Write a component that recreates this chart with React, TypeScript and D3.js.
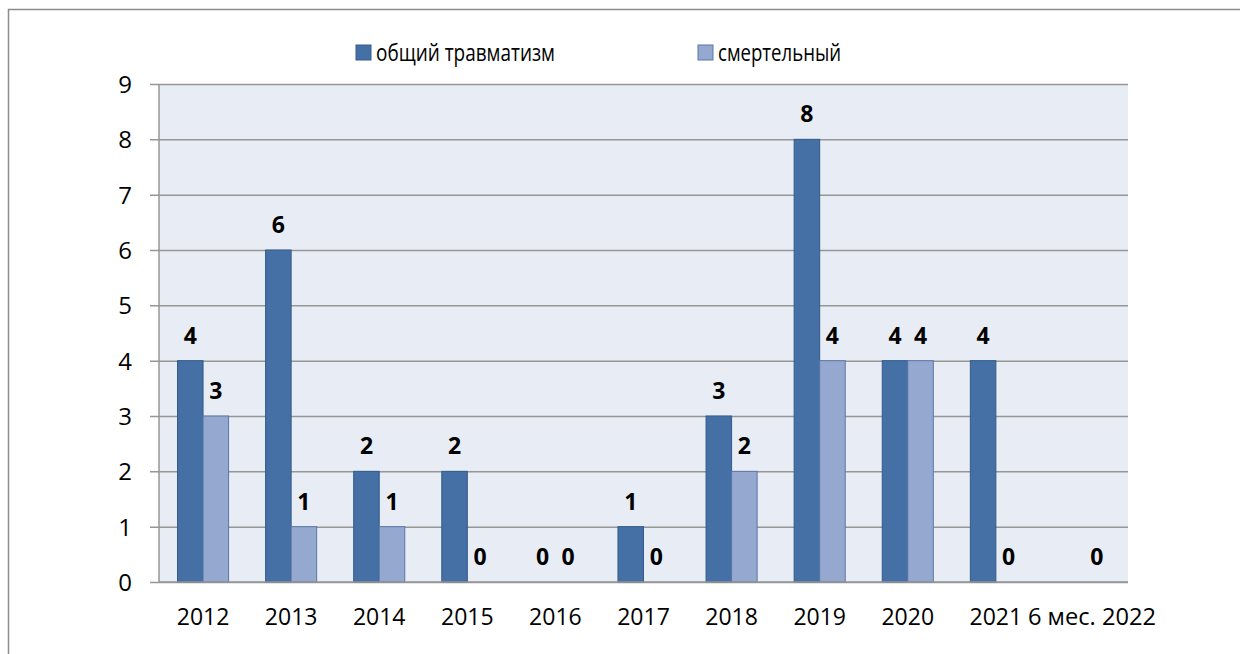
import { useRef, useEffect } from "react";
import * as d3 from "d3";

const categories = ["2012", "2013", "2014", "2015", "2016", "2017", "2018", "2019", "2020", "2021", "6 мес. 2022"];
const totalInjuries: (number | null)[] = [4, 6, 2, 2, 0, 1, 3, 8, 4, 4, null];
const fatalInjuries: (number | null)[] = [3, 1, 1, 0, 0, 0, 2, 4, 4, 0, 0];
const yTicks = [0, 1, 2, 3, 4, 5, 6, 7, 8, 9];

const series = [
  { name: "общий травматизм", values: totalInjuries, color: "#4470A6", stroke: "#345a8a" },
  { name: "смертельный", values: fatalInjuries, color: "#95A9D0", stroke: "#5a76a8" },
];

const W = 1240;
const H = 654;
const PLOT = { left: 159, right: 1128, top: 84, bottom: 582 };
const FONT = "'Open Sans', 'Noto Sans', sans-serif";

export default function App() {
  const svgRef = useRef<SVGSVGElement>(null);

  useEffect(() => {
    const svg = d3.select(svgRef.current);
    svg.selectAll("*").remove();

    // outer frame (right/bottom edges fall outside the picture)
    svg
      .append("rect")
      .attr("x", 8.5)
      .attr("y", 9.5)
      .attr("width", W + 20)
      .attr("height", H + 20)
      .attr("fill", "#fff")
      .attr("stroke", "#8c8c8c")
      .attr("stroke-width", 1.5);

    const x = d3.scaleBand<string>().domain(categories).range([PLOT.left, PLOT.right]);
    const y = d3.scaleLinear().domain([0, 9]).range([PLOT.bottom, PLOT.top]);

    // plot background
    svg
      .append("rect")
      .attr("x", PLOT.left)
      .attr("y", PLOT.top)
      .attr("width", PLOT.right - PLOT.left)
      .attr("height", PLOT.bottom - PLOT.top)
      .attr("fill", "#E8EDF5");

    // gridlines + y ticks
    const yAxis = d3
      .axisLeft(y)
      .tickValues(yTicks)
      .tickSize(-(PLOT.right - PLOT.left))
      .tickPadding(27)
      .tickFormat((d) => String(d));

    svg
      .append("g")
      .attr("transform", `translate(${PLOT.left},0)`)
      .call(yAxis)
      .call((g) => {
        g.select(".domain").remove();
        g.selectAll(".tick line").attr("stroke", "#969696").attr("stroke-width", 1.5).attr("x1", -9);
        g.selectAll(".tick text")
          .attr("fill", "#000")
          .attr("font-size", "24px")
          .attr("font-family", FONT)
          .attr("dy", "0.36em");
      });

    // y axis line
    svg
      .append("line")
      .attr("x1", PLOT.left)
      .attr("x2", PLOT.left)
      .attr("y1", PLOT.top)
      .attr("y2", PLOT.bottom)
      .attr("stroke", "#969696")
      .attr("stroke-width", 1.5);

    // bars
    const band = x.bandwidth();
    const barW = band / 3.45;
    series.forEach((s, si) => {
      s.values.forEach((v, i) => {
        if (v === null) return;
        const cx = (x(categories[i]) ?? 0) + band / 2;
        const bx = cx - barW + si * barW;
        if (v > 0) {
          svg
            .append("rect")
            .attr("x", bx)
            .attr("y", y(v))
            .attr("width", barW)
            .attr("height", y(0) - y(v))
            .attr("fill", s.color)
            .attr("stroke", s.stroke)
            .attr("stroke-width", 1);
        }
        svg
          .append("text")
          .attr("x", bx + barW / 2)
          .attr("y", y(v) - 17)
          .attr("text-anchor", "middle")
          .attr("font-size", "23px")
          .attr("font-weight", "bold")
          .attr("font-family", FONT)
          .attr("fill", "#000")
          .text(String(v));
      });
    });

    // x axis
    svg
      .append("line")
      .attr("x1", PLOT.left)
      .attr("x2", PLOT.right)
      .attr("y1", PLOT.bottom)
      .attr("y2", PLOT.bottom)
      .attr("stroke", "#969696")
      .attr("stroke-width", 1.5);

    svg
      .append("g")
      .selectAll("text")
      .data(categories)
      .enter()
      .append("text")
      .attr("x", (d, i) => (x(d) ?? 0) + band / 2 + (i === categories.length - 1 ? 8 : 0))
      .attr("y", 625)
      .attr("text-anchor", "middle")
      .attr("font-size", "23px")
      .attr("font-family", FONT)
      .attr("fill", "#000")
      .each(function (d, i) {
        if (i === categories.length - 1) {
          d3.select(this).attr("textLength", 128).attr("lengthAdjust", "spacingAndGlyphs");
        }
      })
      .text((d) => d);

    // legend
    const legendX = [356, 698];
    series.forEach((s, i) => {
      svg
        .append("rect")
        .attr("x", legendX[i])
        .attr("y", 45)
        .attr("width", 15)
        .attr("height", 15)
        .attr("fill", s.color)
        .attr("stroke", s.stroke)
        .attr("stroke-width", 1);
      svg
        .append("text")
        .attr("x", legendX[i] + 20)
        .attr("y", 61)
        .attr("font-size", "23px")
        .attr("font-family", FONT)
        .attr("fill", "#000")
        .attr("textLength", i === 0 ? 179 : 123)
        .attr("lengthAdjust", "spacingAndGlyphs")
        .text(s.name);
    });
  }, []);

  return (
    <div style={{ position: "absolute", left: 0, top: 0, width: W, height: H }}>
      <svg ref={svgRef} width={W} height={H} style={{ display: "block" }} />
    </div>
  );
}
